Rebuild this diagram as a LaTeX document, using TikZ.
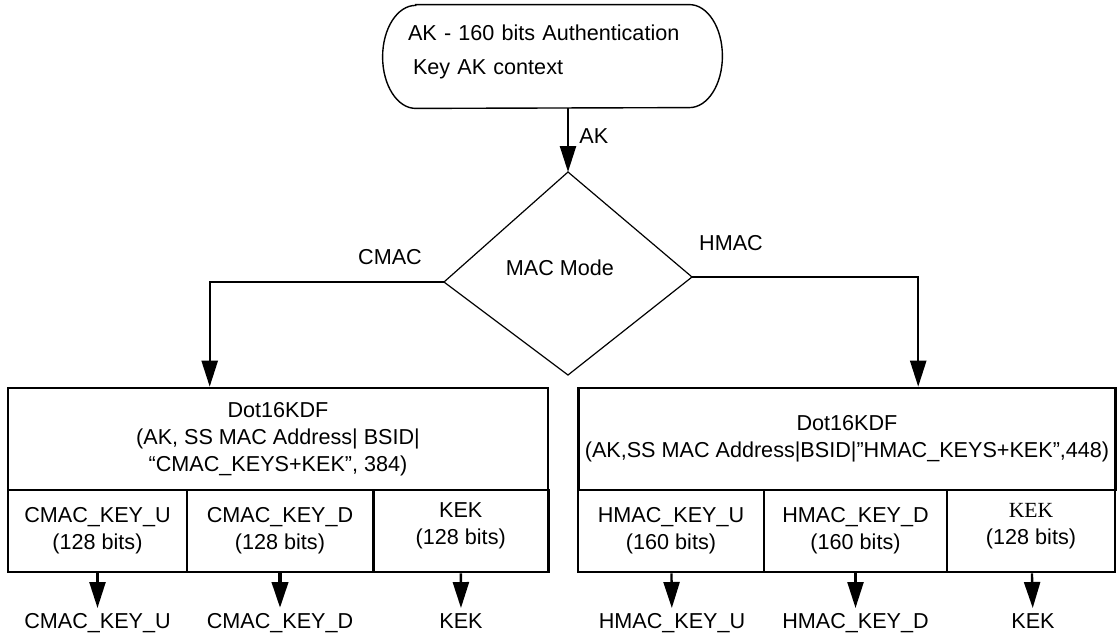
\documentclass[tikz,border=0pt]{standalone}
\usepackage{fontspec}
\setmainfont{Liberation Sans}
\newfontfamily\kekserif{Liberation Serif}
\usetikzlibrary{arrows.meta}

\begin{document}
\begin{tikzpicture}[
  x=0.5pt, y=-0.5pt,
  font={\fontsize{10.8pt}{13.5pt}\selectfont},
  >={Triangle[length=13pt, width=8pt]},
  cell/.style={draw, line width=1.3pt, inner sep=0pt, align=center, minimum height=41pt},
  kdf/.style={cell, minimum height=51pt},
  kekcell/.style={cell, text depth=7pt},
  flow/.style={->, line width=1.2pt},
  feed/.style={->, line width=1.2pt, shorten >=2.5pt},
  keyout/.style={anchor=north, inner sep=0pt},
  tag/.style={inner sep=0pt}
]
\useasboundingbox (0,0) rectangle (1117,633);

% ---------------------------------------------------------------------------
% AK context and the MAC mode decision
% ---------------------------------------------------------------------------
\node[text width=144.5pt, align=left, minimum width=169.5pt, minimum height=51.5pt,
  inner sep=0pt, text depth=24.3pt] (akctx) at (552.5,56.5)
  {AK - 160 bits Authentication\\[3.5pt]\hspace*{2.5pt}Key AK context};
\draw[line width=0.7pt] ([xshift=16.5pt]akctx.north west) -- ([xshift=-16.5pt]akctx.north east)
  arc[start angle=90, end angle=-90, x radius=16.5pt, y radius=25.75pt]
  -- ([xshift=16.5pt]akctx.south west)
  arc[start angle=270, end angle=90, x radius=16.5pt, y radius=25.75pt] -- cycle;

% the decision diamond, a little taller above its side corners
\node[tag] (mode) at (560,268) {MAC Mode};
\coordinate (mtop) at (568,172);
\coordinate (mright) at (692,277);
\coordinate (mbot) at (568,375);
\coordinate (mleft) at (444,282);
\draw[line width=0.6pt] (mtop) -- (mright) -- (mbot) -- (mleft) -- cycle;

\draw[flow] (akctx.south -| mtop) -- (mtop);
\node[tag, anchor=west] (aklbl) at (579,136) {AK};

\node[tag] (cmaclbl) at (390,257) {CMAC};
\node[tag] (hmaclbl) at (731,243) {HMAC};

% ---------------------------------------------------------------------------
% CMAC branch
% ---------------------------------------------------------------------------
\node[kdf, minimum width=270pt] (lhead) at (278,439)
  {Dot16KDF\\(AK, SS MAC Address| BSID|\\“CMAC\_KEYS+KEK”, 384)};
\node[cell, minimum width=89.5pt] (lcu) at (97.5,531) {CMAC\_KEY\_U\\(128 bits)};
\node[cell, minimum width=93pt] (lcd) at (280,531) {CMAC\_KEY\_D\\(128 bits)};
\node[kekcell, minimum width=87.5pt] (lkek) at (460.75,531) {KEK\\(128 bits)};

\draw[flow] (mleft) -| ([xshift=101.5pt]lhead.north west);

\node[keyout] (lcuout) at (97.5,613) {CMAC\_KEY\_U};
\node[keyout] (lcdout) at (280,613) {CMAC\_KEY\_D};
\node[keyout] (lkekout) at (461,613) {KEK};
\draw[feed] (lcu) -- (lcuout);
\draw[feed, line width=2pt] (lcd) -- (lcdout);
\draw[feed] (lkek) -- (lkekout);

% ---------------------------------------------------------------------------
% HMAC branch
% ---------------------------------------------------------------------------
\node[kdf, minimum width=268.5pt] (rhead) at (847,439)
  {Dot16KDF\\(AK,SS MAC Address|BSID|”HMAC\_KEYS+KEK”,448)};
\node[cell, minimum width=93pt] (rhu) at (671,531) {HMAC\_KEY\_U\\(160 bits)};
\node[cell, minimum width=91.5pt] (rhd) at (855.5,531) {HMAC\_KEY\_D\\(160 bits)};
\node[kekcell, minimum width=84pt] (rkek) at (1031,531) {{\kekserif KEK}\\(128 bits)};

\draw[flow] (mright) -| ([xshift=170.5pt]rhead.north west);

\node[keyout] (rhuout) at (672,613) {HMAC\_KEY\_U};
\node[keyout] (rhdout) at (855.5,613) {HMAC\_KEY\_D};
\node[keyout] (rkekout) at (1033,613) {KEK};
\draw[feed] (rhu) -- (rhuout);
\draw[feed] (rhd) -- (rhdout);
\draw[feed] (rkek) -- (rkekout);

\end{tikzpicture}
\end{document}
